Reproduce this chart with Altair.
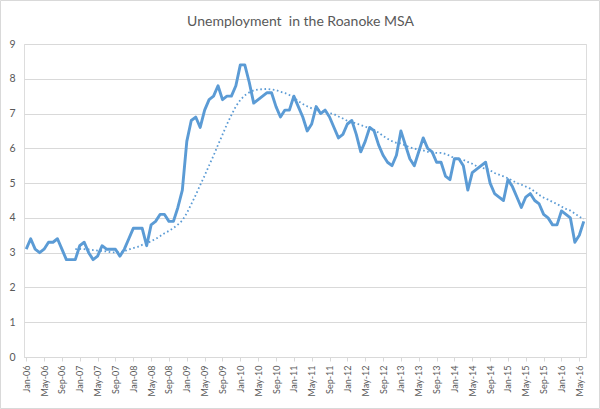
import altair as alt
import pandas as pd

# Roanoke MSA unemployment rate (%), monthly, Jan-06 .. Jun-16
rate = [
    3.1, 3.4, 3.1, 3.0, 3.1, 3.3, 3.3, 3.4, 3.1, 2.8, 2.8, 2.8,  # 2006
    3.2, 3.3, 3.0, 2.8, 2.9, 3.2, 3.1, 3.1, 3.1, 2.9, 3.1, 3.4,  # 2007
    3.7, 3.7, 3.7, 3.2, 3.8, 3.9, 4.1, 4.1, 3.9, 3.9, 4.3, 4.8,  # 2008
    6.2, 6.8, 6.9, 6.6, 7.1, 7.4, 7.5, 7.8, 7.4, 7.5, 7.5, 7.8,  # 2009
    8.4, 8.4, 7.9, 7.3, 7.4, 7.5, 7.6, 7.6, 7.2, 6.9, 7.1, 7.1,  # 2010
    7.5, 7.2, 6.9, 6.5, 6.7, 7.2, 7.0, 7.1, 6.9, 6.6, 6.3, 6.4,  # 2011
    6.7, 6.8, 6.4, 5.9, 6.2, 6.6, 6.5, 6.1, 5.8, 5.6, 5.5, 5.8,  # 2012
    6.5, 6.1, 5.7, 5.5, 5.9, 6.3, 6.0, 5.9, 5.6, 5.6, 5.2, 5.1,  # 2013
    5.7, 5.7, 5.5, 4.8, 5.3, 5.4, 5.5, 5.6, 5.0, 4.7, 4.6, 4.5,  # 2014
    5.1, 4.9, 4.6, 4.3, 4.6, 4.7, 4.5, 4.4, 4.1, 4.0, 3.8, 3.8,  # 2015
    4.2, 4.1, 4.0, 3.3, 3.5, 3.9,                                # 2016
]
months = pd.date_range("2006-01-01", periods=len(rate), freq="MS").strftime("%b-%y").tolist()
tick_labels = months[::4]
y_ticks = [0, 1, 2, 3, 4, 5, 6, 7, 8, 9]
title_text = "Unemployment\u00a0 in the Roanoke MSA"

df = pd.DataFrame({"idx": list(range(len(rate))), "month": months, "rate": rate})

BLUE = "#5b9bd5"
TXT = "#595959"
GRID = "#d9d9d9"
FONT = "Lato"

x_scale = alt.Scale(type="point", padding=0.5)
y_scale = alt.Scale(domain=[0, 9], nice=False)

x_axis = alt.Axis(values=tick_labels, labelAngle=-90, labelAlign="right",
                  labelBaseline="middle", labelFontSize=9, labelColor=TXT,
                  labelFont=FONT, labelPadding=4, tickSize=4, tickColor=GRID,
                  domainColor=GRID, grid=False, title=None, labelOverlap=False)
y_axis = alt.Axis(values=y_ticks, tickCount=20, format="d", grid=True, gridColor=GRID,
                  domain=False, ticks=False, labelColor=TXT, labelFontSize=10.5,
                  labelFont=FONT, labelPadding=9, title=None, labelOverlap=False)

base = alt.Chart(df)
line = base.mark_line(color=BLUE, strokeWidth=2.9, strokeJoin="round").encode(
    x=alt.X("month:O", sort=months, scale=x_scale, axis=x_axis),
    y=alt.Y("rate:Q", scale=y_scale, axis=y_axis),
)
ma = (
    base.transform_window(ma="mean(rate)", n="count()", frame=[-11, 0],
                          sort=[alt.SortField("idx")])
    .transform_filter("datum.n >= 12")
    .mark_line(color=BLUE, strokeWidth=1.8, strokeDash=[1.6, 2.6])
    .encode(x=alt.X("month:O", sort=months, scale=x_scale, axis=x_axis),
            y=alt.Y("ma:Q", scale=y_scale, axis=y_axis))
)
frame = alt.Chart(alt.Data(values=[{"b": 1}]))
border = frame.mark_rect(filled=False, stroke=GRID, strokeWidth=1).encode(
    x=alt.value(-23.5), x2=alt.value(575.5), y=alt.value(-43.5), y2=alt.value(364.5)
)
title = frame.mark_text(fontSize=14, font=FONT, color=TXT, align="center",
                        baseline="middle").encode(
    x=alt.value(276.5), y=alt.value(-22), text=alt.value(title_text)
)

chart = (
    alt.layer(border, title, line, ma)
    .properties(
        width=562, height=313,
        autosize=alt.AutoSizeParams(type="none"),
        padding={"left": 24, "top": 44, "right": 14, "bottom": 52},
    )
    .configure_view(stroke=None)
    .configure(background="white")
)
chart.save("out.html", embed_options={"renderer": "svg", "actions": False})
